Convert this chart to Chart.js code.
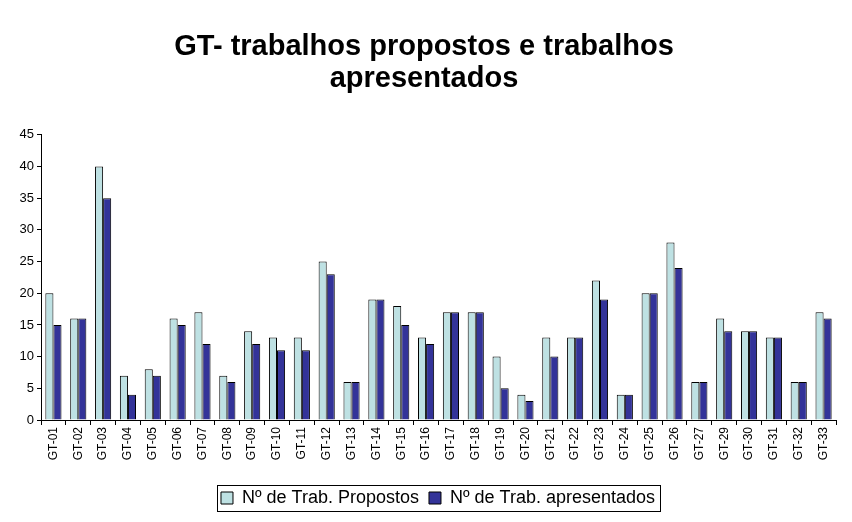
<!DOCTYPE html>
<html><head><meta charset="utf-8">
<script src="https://cdn.jsdelivr.net/npm/chart.js@4/dist/chart.umd.min.js"></script>
<style>html,body{margin:0;padding:0;background:#fff}#wrap{width:852px;height:522px}</style>
</head><body><div id="wrap"><canvas id="c" width="852" height="522"></canvas></div>
<script>
const categories = ["GT-01","GT-02","GT-03","GT-04","GT-05","GT-06","GT-07","GT-08","GT-09","GT-10","GT-11","GT-12","GT-13","GT-14","GT-15","GT-16","GT-17","GT-18","GT-19","GT-20","GT-21","GT-22","GT-23","GT-24","GT-25","GT-26","GT-27","GT-29","GT-30","GT-31","GT-32","GT-33"];
const propostos = [20,16,40,7,8,16,17,7,14,13,13,25,6,19,18,13,17,17,10,4,13,13,22,4,20,28,6,16,14,13,6,17];
const apresentados = [15,16,35,4,7,15,12,6,12,11,11,23,6,19,15,12,17,17,5,3,10,13,19,4,20,24,6,14,14,13,6,16];
const yTicks = [0,5,10,15,20,25,30,35,40,45];

const shiftBoxes = {
  id:'shiftBoxes',
  afterUpdate(chart){
    const lg = chart.legend;
    if(lg){ lg.left+=20; lg.right+=20; (lg.legendHitBoxes||[]).forEach(h=>{h.left+=20;}); }
    const t = chart.titleBlock;
    if(t){ t.left+=6; t.right+=6; }
  }
};

const legendBox = {
  id:'legendBox',
  afterDraw(chart){
    const lg = chart.legend;
    if(!lg || !lg.legendHitBoxes || !lg.legendHitBoxes.length) return;
    const hb = lg.legendHitBoxes;
    let x0=Infinity,x1=-Infinity,y0=Infinity,y1=-Infinity;
    hb.forEach(h=>{x0=Math.min(x0,h.left);x1=Math.max(x1,h.left+h.width);y0=Math.min(y0,h.top);y1=Math.max(y1,h.top+h.height);});
    const ctx=chart.ctx;
    ctx.save();ctx.strokeStyle='#000';ctx.lineWidth=1;
    ctx.strokeRect(Math.round(x0-4)+0.5,Math.round(y0-4)+0.5,Math.round(x1-x0+9),Math.round(y1-y0+8));
    ctx.restore();
  }
};

new Chart(document.getElementById('c'),{
  type:'bar',
  data:{labels:categories,datasets:[
    {label:'Nº de Trab. Propostos',data:propostos,backgroundColor:'#BEE1E3',borderColor:'#000',borderWidth:1},
    {label:'Nº de Trab. apresentados',data:apresentados,backgroundColor:'#333399',borderColor:'#000',borderWidth:1}
  ]},
  options:{
    responsive:false,animation:false,
    layout:{padding:{left:0,right:16,top:14,bottom:5}},
    datasets:{bar:{categoryPercentage:0.65,barPercentage:1}},
    plugins:{
      title:{display:true,text:['GT- trabalhos propostos e trabalhos','apresentados'],color:'#000',font:{family:'Liberation Sans, Arial',size:29,weight:'bold',lineHeight:1.1},padding:{top:17,bottom:40}},
      legend:{position:'bottom',labels:{color:'#000',font:{family:'Liberation Sans, Arial',size:18},boxWidth:12,boxHeight:12,padding:10}},
      tooltip:{enabled:false}
    },
    scales:{
      x:{afterFit(s){s.height=59;},grid:{display:true,drawOnChartArea:false,drawTicks:true,tickLength:5,color:'#000',offset:true},border:{display:true,color:'#000'},
         ticks:{color:'#000',font:{family:'Liberation Sans, Arial',size:12},minRotation:90,maxRotation:90,autoSkip:false,padding:2}},
      y:{min:0,max:45,afterBuildTicks(s){s.ticks=yTicks.map(v=>({value:v}));},afterFit(s){s.width=41;},
         grid:{display:true,drawOnChartArea:false,drawTicks:true,tickLength:4,color:'#000'},border:{display:true,color:'#000'},
         ticks:{color:'#000',font:{family:'Liberation Sans, Arial',size:13},padding:3}}
    }
  },
  plugins:[shiftBoxes,legendBox]
});
</script></body></html>
